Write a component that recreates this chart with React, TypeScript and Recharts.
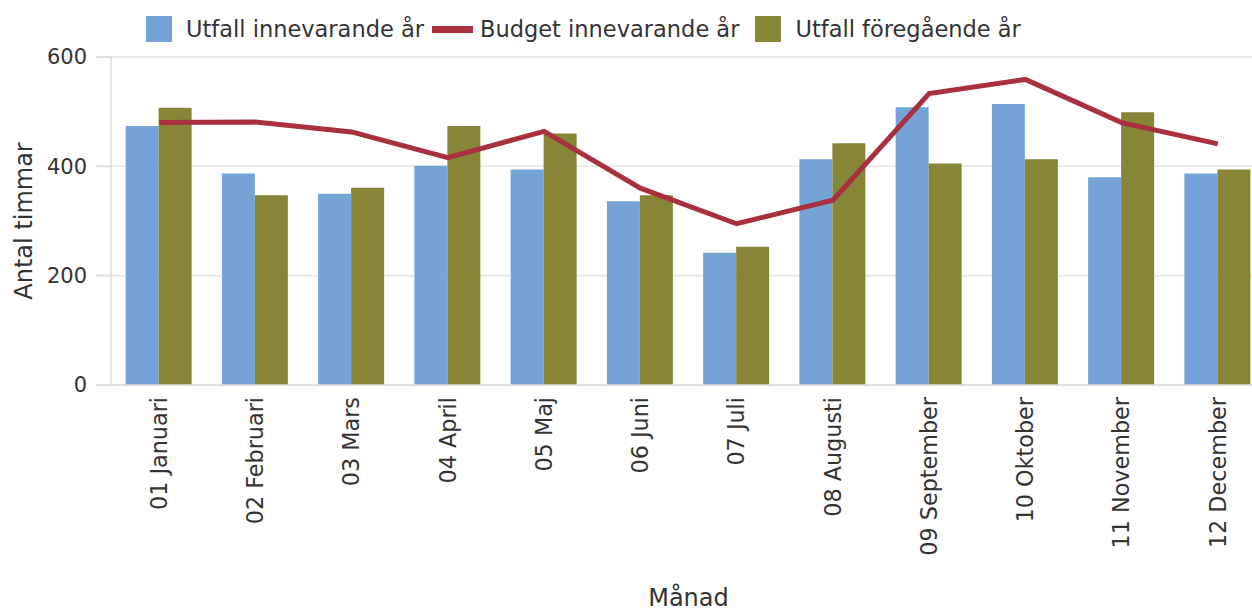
import React from 'react';
import { ComposedChart, Bar, Line, XAxis, YAxis, CartesianGrid, Legend } from 'recharts';

const months = [
  '01 Januari', '02 Februari', '03 Mars', '04 April', '05 Maj', '06 Juni',
  '07 Juli', '08 Augusti', '09 September', '10 Oktober', '11 November', '12 December',
];
const utfallInnevarande = [474, 387, 350, 401, 394, 336, 242, 413, 508, 514, 380, 387];
const budgetInnevarande = [480, 481, 463, 416, 464, 360, 295, 338, 533, 559, 480, 441];
const utfallForegaende = [507, 347, 361, 474, 460, 347, 253, 442, 405, 413, 499, 394];
const yTicks = [0, 200, 400, 600];

const SERIES_BAR1 = 'Utfall innevarande år';
const SERIES_LINE = 'Budget innevarande år';
const SERIES_BAR2 = 'Utfall föregående år';
const X_TITLE = 'Månad';
const Y_TITLE = 'Antal timmar';

const BLUE = '#73a4d5';
const OLIVE = '#878538';
const RED = '#a8303f';
const FONT = '"DejaVu Sans", Verdana, sans-serif';
const TEXT = '#333333';

const data = months.map((m, i) => ({
  month: m,
  a: utfallInnevarande[i],
  b: budgetInnevarande[i],
  c: utfallForegaende[i],
}));

const XTick = (props: any) => {
  const { x, y, payload } = props;
  return (
    <text
      x={x}
      y={y}
      transform={`rotate(-90, ${x}, ${y})`}
      textAnchor="end"
      dx={-12}
      dy="0.35em"
      fontFamily={FONT}
      fontSize={22.3}
      fill={TEXT}
    >
      {payload.value}
    </text>
  );
};

const YTick = (props: any) => {
  const { x, y, payload } = props;
  return (
    <text x={x} y={y} textAnchor="end" dy="0.35em" fontFamily={FONT} fontSize={21} fill={TEXT}>
      {payload.value}
    </text>
  );
};

const YLabel = (props: any) => {
  const vb = props.viewBox || { y: 57, height: 328 };
  const cy = vb.y + vb.height / 2;
  const x = 32;
  return (
    <text
      x={x}
      y={cy}
      transform={`rotate(-90, ${x}, ${cy})`}
      textAnchor="middle"
      fontFamily={FONT}
      fontSize={24}
      fill={TEXT}
    >
      {Y_TITLE}
    </text>
  );
};

const XLabel = (props: any) => {
  const vb = props.viewBox || { x: 111, width: 1155 };
  const cx = vb.x + vb.width / 2;
  return (
    <text x={cx} y={606} textAnchor="middle" fontFamily={FONT} fontSize={24} fill={TEXT}>
      {X_TITLE}
    </text>
  );
};

const renderLegend = () => (
  <div
    style={{
      display: 'flex',
      alignItems: 'center',
      fontFamily: FONT,
      fontSize: 22.5,
      color: TEXT,
      whiteSpace: 'nowrap',
      lineHeight: '26px',
    }}
  >
    <span style={{ display: 'inline-block', width: 26, height: 26, background: BLUE, marginRight: 14 }} />
    <span style={{ marginRight: 8 }}>{SERIES_BAR1}</span>
    <span style={{ display: 'inline-block', width: 41, height: 7, background: RED, marginRight: 7 }} />
    <span style={{ marginRight: 16 }}>{SERIES_LINE}</span>
    <span style={{ display: 'inline-block', width: 26, height: 26, background: OLIVE, marginRight: 14 }} />
    <span>{SERIES_BAR2}</span>
  </div>
);

export default function App() {
  return (
    <div
      style={{
        position: 'fixed',
        left: 0,
        top: 0,
        width: 1252,
        height: 610,
        overflow: 'hidden',
        background: '#ffffff',
      }}
    >
      <ComposedChart
        width={1280}
        height={610}
        data={data}
        margin={{ top: 57, right: 14, left: 0, bottom: 0 }}
        barCategoryGap="15.2%"
        barGap={0}
      >
        <CartesianGrid vertical={false} stroke="#e4e4e4" strokeWidth={1.5} />
        <XAxis
          dataKey="month"
          height={225}
          interval={0}
          tickLine={false}
          tickSize={0}
          tickMargin={0}
          axisLine={{ stroke: '#dcdcdc', strokeWidth: 1.5 }}
          tick={<XTick />}
          label={<XLabel />}
        />
        <YAxis
          width={111}
          domain={[0, 600]}
          ticks={yTicks}
          interval={0}
          tickSize={15}
          tickMargin={9}
          tickLine={{ stroke: '#dcdcdc', strokeWidth: 2 }}
          axisLine={{ stroke: '#dcdcdc', strokeWidth: 1.5 }}
          tick={<YTick />}
          label={<YLabel />}
        />
        <Legend
          layout="horizontal"
          verticalAlign="middle"
          align="center"
          content={renderLegend}
          wrapperStyle={{ top: 16, left: 146, width: 'auto', height: 26 }}
        />
        <Bar dataKey="a" name={SERIES_BAR1} fill={BLUE} isAnimationActive={false} />
        <Line
          dataKey="b"
          name={SERIES_LINE}
          type="linear"
          stroke={RED}
          strokeWidth={5}
          dot={false}
          activeDot={false}
          isAnimationActive={false}
        />
        <Bar dataKey="c" name={SERIES_BAR2} fill={OLIVE} isAnimationActive={false} />
      </ComposedChart>
    </div>
  );
}
